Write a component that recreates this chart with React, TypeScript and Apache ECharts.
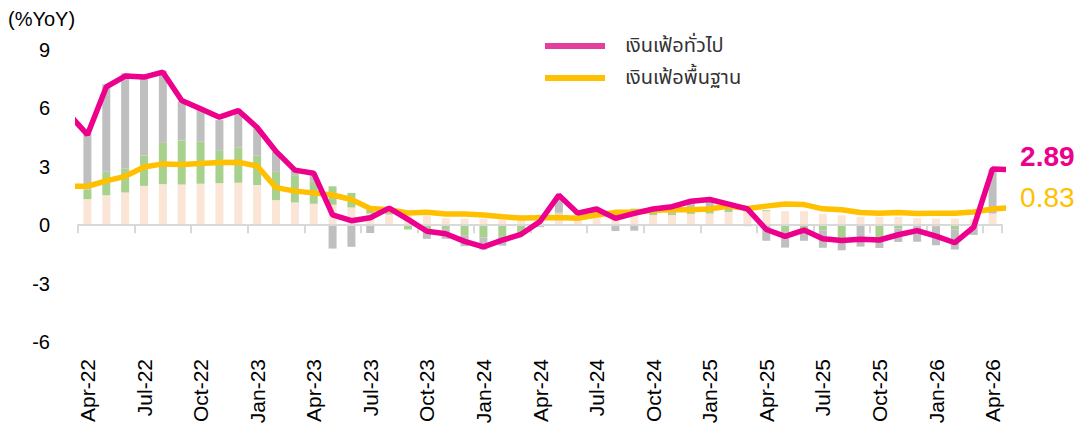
import React, { useEffect, useRef } from "react";
import * as echarts from "echarts";

// Month categories (first and last are only partially visible at the plot edges)
const months = [
  "Mar-22", "Apr-22", "May-22", "Jun-22", "Jul-22", "Aug-22", "Sep-22", "Oct-22", "Nov-22", "Dec-22",
  "Jan-23", "Feb-23", "Mar-23", "Apr-23", "May-23", "Jun-23", "Jul-23", "Aug-23", "Sep-23", "Oct-23", "Nov-23", "Dec-23",
  "Jan-24", "Feb-24", "Mar-24", "Apr-24", "May-24", "Jun-24", "Jul-24", "Aug-24", "Sep-24", "Oct-24", "Nov-24", "Dec-24",
  "Jan-25", "Feb-25", "Mar-25", "Apr-25", "May-25", "Jun-25", "Jul-25", "Aug-25", "Sep-25", "Oct-25", "Nov-25", "Dec-25",
  "Jan-26", "Feb-26", "Mar-26", "Apr-26", "May-26",
];

// Headline inflation (%YoY)
const headline = [
  5.73, 4.65, 7.10, 7.66, 7.61, 7.86, 6.41, 5.98, 5.55, 5.89,
  5.02, 3.79, 2.83, 2.67, 0.53, 0.23, 0.38, 0.88, 0.30, -0.31, -0.44, -0.83,
  -1.11, -0.77, -0.47, 0.19, 1.54, 0.62, 0.83, 0.35, 0.61, 0.83, 0.95, 1.23,
  1.32, 1.08, 0.84, -0.22, -0.57, -0.25, -0.70, -0.79, -0.72, -0.76, -0.49, -0.28,
  -0.56, -0.90, -0.10, 2.89, 2.85,
];

// Core inflation (%YoY)
const core = [
  2.00, 2.00, 2.28, 2.51, 2.99, 3.15, 3.12, 3.17, 3.22, 3.23,
  3.04, 1.93, 1.75, 1.66, 1.55, 1.32, 0.86, 0.79, 0.63, 0.66, 0.58, 0.58,
  0.52, 0.43, 0.37, 0.38, 0.39, 0.36, 0.52, 0.66, 0.66, 0.77, 0.80, 0.79,
  0.83, 0.99, 0.86, 0.98, 1.09, 1.06, 0.84, 0.79, 0.65, 0.62, 0.65, 0.60,
  0.62, 0.62, 0.68, 0.83, 0.90,
];

// Contributions (stacked bars)
const contribCore = [
  null, 1.34, 1.54, 1.68, 2.02, 2.11, 2.09, 2.13, 2.16, 2.18,
  2.06, 1.29, 1.17, 1.10, 1.05, 0.91, 0.60, 0.55, 0.50, 0.46, 0.36, 0.34,
  0.34, 0.26, 0.26, 0.30, 0.60, 0.55, 0.45, 0.45, 0.55, 0.52, 0.52, 0.58,
  0.60, 0.68, 0.70, 0.72, 0.72, 0.72, 0.57, 0.51, 0.43, 0.43, 0.43, 0.36,
  0.34, 0.34, 0.30, 0.60, null,
];
const contribFood = [
  null, 0.49, 1.20, 1.22, 1.56, 2.12, 2.26, 2.16, 1.66, 1.82,
  1.51, 1.45, 1.40, 1.13, 0.95, 0.75, 0.26, 0.00, -0.22, -0.20, -0.20, -0.51,
  -0.63, -0.60, -0.43, -0.05, 0.05, 0.05, 0.30, 0.15, 0.30, 0.20, 0.10, 0.10,
  0.17, 0.20, 0.05, 0.05, -0.30, -0.25, -0.26, -0.69, 0.00, -0.69, -0.17, -0.05,
  -0.05, -0.21, 0.00, 0.00, null,
];
const contribEnergy = [
  null, 2.90, 4.50, 4.90, 3.96, 3.70, 2.00, 1.63, 1.58, 1.74,
  1.40, 1.03, 0.26, 0.35, -1.20, -1.11, -0.40, 0.30, 0.00, -0.50, -0.50, -0.57,
  -0.62, -0.45, -0.05, -0.05, 0.69, 0.05, 0.05, -0.30, -0.28, 0.10, 0.30, 0.50,
  0.50, 0.20, -0.05, -0.80, -0.85, -0.55, -0.90, -0.60, -1.10, -0.48, -0.69, -0.80,
  -0.98, -1.04, -0.50, 2.27, null,
];

const yTicks = { min: -6, max: 9, interval: 3 };
const headlineName = "เงินเฟ้อทั่วไป";
const coreName = "เงินเฟ้อพื้นฐาน";
const lastLabelMonth = "Apr-26";

const LATIN = "'Liberation Sans', Arial, Helvetica, sans-serif";
const THAI = "'Noto Sans Thai', 'Noto Sans Thai UI', 'Noto Sans', sans-serif";

const isQuarterStart = (_i: number, v: string) =>
  /^(Jan|Apr|Jul|Oct)/.test(v);

export default function App() {
  const ref = useRef<HTMLDivElement>(null);

  useEffect(() => {
    document.body.style.margin = "0";
    if (!ref.current) return;
    const chart = echarts.init(ref.current, null, { renderer: "svg" });
    const labelIdx = months.indexOf(lastLabelMonth);

    const withEndLabel = (arr: number[], color: string, weight: string) =>
      arr.map((v, i) =>
        i === labelIdx
          ? {
              value: v,
              symbol: "circle",
              symbolSize: 1,
              label: {
                show: true,
                position: "right",
                distance: 27,
                offset: [0, -12],
                color,
                fontSize: 28,
                fontWeight: weight,
                fontFamily: LATIN,
                formatter: (p: any) => Number(p.value).toFixed(2),
              },
            }
          : v
      );

    const option: any = {
      animation: false,
      grid: { left: 78, right: 80, top: 50, bottom: 91 },
      graphic: [
        {
          type: "text",
          left: 8,
          top: 9,
          style: { text: "(%YoY)", fontSize: 20, fill: "#000", fontFamily: LATIN },
        },
      ],
      legend: {
        orient: "vertical",
        left: 540,
        top: 31,
        itemWidth: 60,
        itemHeight: 6,
        itemGap: 12,
        icon: "rect",
        data: [
          { name: headlineName, itemStyle: { color: "#E2409C" } },
          { name: coreName, itemStyle: { color: "#FFC000" } },
        ],
        textStyle: { fontSize: 20, color: "#333", fontFamily: THAI, padding: [0, 0, 0, 15] },
      },
      xAxis: [
        {
          type: "category",
          data: months,
          min: 1,
          max: months.length - 2,
          boundaryGap: true,
          position: "bottom",
          axisLine: { show: false, onZero: false },
          axisTick: { show: false },
          splitLine: { show: false },
          axisLabel: {
            rotate: 90,
            interval: isQuarterStart,
            fontSize: 21,
            color: "#000",
            margin: 17,
            fontFamily: LATIN,
          },
        },
        {
          type: "category",
          data: months,
          min: 1,
          max: months.length - 2,
          boundaryGap: true,
          position: "top",
          z: 1.5,
          axisLine: { show: true, onZero: true, lineStyle: { color: "#D9D9D9", width: 2 } },
          axisTick: {
            show: true,
            inside: true,
            length: 8,
            interval: isQuarterStart,
            lineStyle: { color: "#D9D9D9", width: 2 },
          },
          axisLabel: { show: false },
          splitLine: { show: false },
        },
      ],
      yAxis: {
        type: "value",
        min: yTicks.min,
        max: yTicks.max,
        interval: yTicks.interval,
        axisLine: { show: false },
        axisTick: { show: false },
        splitLine: { show: false },
        axisLabel: { fontSize: 20, color: "#000", margin: 28, fontFamily: LATIN },
      },
      series: [
        {
          name: "core-contrib",
          type: "bar",
          stack: "c",
          data: contribCore,
          barWidth: 8,
          z: 1,
          itemStyle: { color: "#FBE5D6" },
        },
        {
          name: "food-contrib",
          type: "bar",
          stack: "c",
          data: contribFood,
          barWidth: 8,
          z: 1,
          itemStyle: { color: "#A9D18E" },
        },
        {
          name: "energy-contrib",
          type: "bar",
          stack: "c",
          data: contribEnergy,
          barWidth: 8,
          z: 1,
          itemStyle: { color: "#BFBFBF" },
        },
        {
          name: coreName,
          type: "line",
          data: withEndLabel(core, "#FFC000", "normal"),
          symbol: "none",
          z: 3,
          lineStyle: { color: "#FFC000", width: 5.5 },
          itemStyle: { color: "#FFC000" },
        },
        {
          name: headlineName,
          type: "line",
          data: withEndLabel(headline, "#EC008C", "bold"),
          symbol: "none",
          z: 4,
          lineStyle: { color: "#EC008C", width: 5.5 },
          itemStyle: { color: "#EC008C" },
        },
      ],
    };

    chart.setOption(option);
    return () => chart.dispose();
  }, []);

  return <div ref={ref} style={{ width: 1082, height: 433 }} />;
}
